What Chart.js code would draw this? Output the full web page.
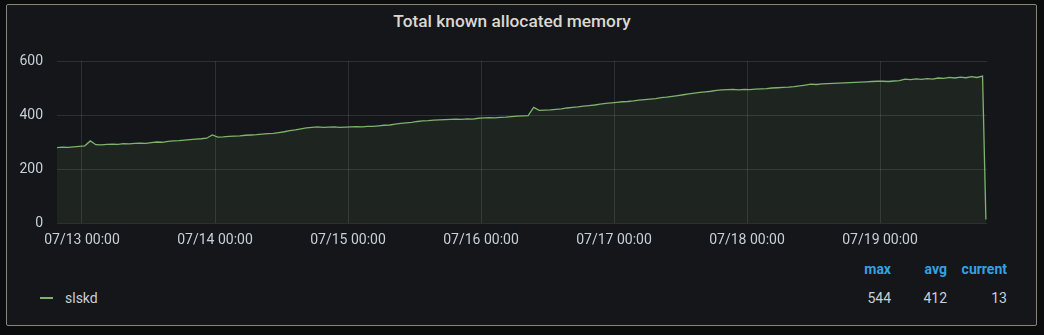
<!DOCTYPE html>
<html>
<head>
<meta charset="utf-8">
<script src="https://cdn.jsdelivr.net/npm/chart.js@4.4.1/dist/chart.umd.min.js"></script>
<style>
  html, body { margin:0; padding:0; background:#0b0c0e; width:1044px; height:335px; overflow:hidden; font-family: Roboto, "Noto Sans", sans-serif; }
  #panel { position:absolute; left:6px; top:4px; width:1029px; height:320px; background:#141619; border:1px solid #8c8576; border-radius:2px; }
  #title { position:absolute; left:-10px; top:11px; width:1044px; text-align:center; color:#dcd8cf; font-size:17.3px; font-weight:500; line-height:20px; }
  #wrap { position:absolute; left:0; top:0; width:1044px; height:260px; }
  .lg { position:absolute; font-size:14px; color:#c7d0d9; }
  .hd { position:absolute; font-size:14px; color:#33a2e5; font-weight:700; text-align:right; }
  .val { position:absolute; font-size:14px; color:#c7d0d9; text-align:right; }
  #marker { position:absolute; left:40px; top:297px; width:13px; height:2px; background:#7eb26d; }
</style>
</head>
<body>
<div id="panel"></div>
<div id="title">Total known allocated memory</div>
<div id="wrap"><canvas id="c" width="1044" height="260"></canvas></div>
<div id="marker"></div>
<div class="lg" style="left:65px; top:290px;" id="seriesName"></div>
<div class="hd" style="left:840px; top:261px; width:51px;">max</div>
<div class="hd" style="left:897px; top:261px; width:50px;">avg</div>
<div class="hd" style="left:950px; top:261px; width:57px;">current</div>
<div class="val" style="left:840px; top:290px; width:51px;" id="vMax"></div>
<div class="val" style="left:897px; top:290px; width:50px;" id="vAvg"></div>
<div class="val" style="left:950px; top:290px; width:57px;" id="vCur"></div>
<script>
// Series name and legend stats
const seriesName = "slskd";
const legendStats = { max: "544", avg: "412", current: "13" };

// Time axis: hours relative to 07/13 00:00
const startHour = -4.5;      // first sample time (hours)
const stepHours = 1;         // sample spacing
const axisMinHour = -4.51;
const axisMaxHour = 163.3;
const tickHours = [0, 24, 48, 72, 96, 120, 144];
const tickLabels = ["07/13 00:00", "07/14 00:00", "07/15 00:00", "07/16 00:00", "07/17 00:00", "07/18 00:00", "07/19 00:00"];
const yTicks = [0, 200, 400, 600];

// Memory values (hourly samples)
const memValues = [
  279, 281, 280, 282, 284,
  286, 304, 290, 289, 291, 292, 291, 294, 293, 295, 296, 295, 298, 300, 299, 302, 304, 305, 307, 309, 311, 312, 314, 326,
  318, 319, 321, 322, 323, 325, 326, 327, 329, 331, 332, 335, 338, 342, 345, 349, 352, 354, 356, 354, 355, 356, 354, 355,
  356, 357, 356, 358, 358, 360, 362, 363, 366, 369, 371, 373, 376, 378, 379, 381, 382, 383, 384, 385, 384, 386, 385, 388,
  389, 390, 389, 391, 392, 394, 396, 397, 398, 428, 417, 418, 419, 421, 423, 426, 428, 430, 433, 435, 437, 440, 443, 445,
  447, 449, 450, 452, 455, 457, 459, 461, 464, 466, 469, 472, 475, 478, 481, 484, 486, 488, 491, 493, 494, 495, 493, 495,
  494, 496, 497, 498, 500, 501, 502, 503, 505, 508, 511, 514, 513, 515, 516, 517, 518, 519, 520, 521, 522, 523, 524, 525,
  525, 524, 526, 527, 533, 531, 534, 532, 535, 533, 537, 536, 539, 537, 540, 538, 542, 539, 544
];
// Final sample (drop at the end)
const lastHour = 163.1;
const lastValue = 13;

document.getElementById('seriesName').textContent = seriesName;
document.getElementById('vMax').textContent = legendStats.max;
document.getElementById('vAvg').textContent = legendStats.avg;
document.getElementById('vCur').textContent = legendStats.current;

const points = memValues.map((v, i) => ({ x: startHour + i * stepHours, y: v }));
points.push({ x: lastHour, y: lastValue });

const gridColor = 'rgba(255,255,255,0.11)';
const tickColor = '#c7d0d9';
const font = { family: 'Roboto', size: 14 };

new Chart(document.getElementById('c'), {
  type: 'line',
  data: {
    datasets: [{
      label: seriesName,
      data: points,
      borderColor: '#7eb26d',
      borderWidth: 1.3,
      backgroundColor: 'rgba(126,178,109,0.10)',
      fill: 'origin',
      pointRadius: 0,
      tension: 0
    }]
  },
  options: {
    responsive: false,
    animation: false,
    events: [],
    layout: { padding: { top: 61, right: 57, left: 0, bottom: 12 } },
    plugins: { legend: { display: false }, tooltip: { enabled: false }, title: { display: false } },
    scales: {
      x: {
        type: 'linear',
        min: axisMinHour,
        max: axisMaxHour,
        afterBuildTicks: s => { s.ticks = tickHours.map(v => ({ value: v })); },
        afterFit: s => { s.height = 25; },
        grid: { color: gridColor, drawTicks: false },
        border: { display: false },
        ticks: {
          color: tickColor, font: font, padding: 9, maxRotation: 0, autoSkip: false,
          callback: v => { const i = tickHours.indexOf(v); return i >= 0 ? tickLabels[i] : ''; }
        }
      },
      y: {
        min: 0,
        max: 600,
        afterBuildTicks: s => { s.ticks = yTicks.map(v => ({ value: v })); },
        afterFit: s => { s.width = 57; },
        grid: { color: gridColor, drawTicks: false },
        border: { display: false },
        ticks: { color: tickColor, font: font, padding: 14 }
      }
    }
  }
});
</script>
</body>
</html>
